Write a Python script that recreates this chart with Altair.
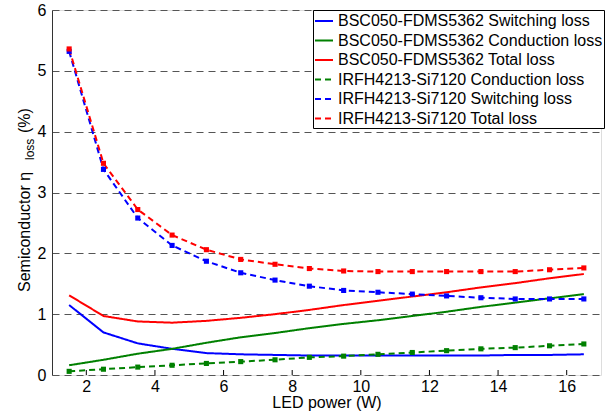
import altair as alt
import pandas as pd

led_power = [1.5, 2.5, 3.5, 4.5, 5.5, 6.5, 7.5, 8.5, 9.5, 10.5, 11.5, 12.5, 13.5, 14.5, 15.5, 16.5]

bsc_switching = [1.15, 0.70, 0.52, 0.43, 0.36, 0.34, 0.33, 0.32, 0.32, 0.32, 0.32, 0.32, 0.32, 0.33, 0.33, 0.34]
bsc_conduction = [0.16, 0.25, 0.35, 0.43, 0.53, 0.62, 0.69, 0.77, 0.84, 0.90, 0.97, 1.04, 1.12, 1.19, 1.26, 1.33]
bsc_total = [1.31, 0.97, 0.88, 0.86, 0.89, 0.94, 1.00, 1.07, 1.15, 1.22, 1.29, 1.36, 1.44, 1.51, 1.59, 1.66]
irfh_conduction = [0.06, 0.095, 0.13, 0.16, 0.19, 0.22, 0.25, 0.29, 0.31, 0.34, 0.37, 0.40, 0.43, 0.45, 0.48, 0.51]
irfh_switching = [5.32, 3.38, 2.58, 2.13, 1.87, 1.68, 1.56, 1.46, 1.39, 1.36, 1.33, 1.30, 1.27, 1.25, 1.25, 1.25]
irfh_total = [5.36, 3.48, 2.72, 2.30, 2.06, 1.90, 1.82, 1.75, 1.71, 1.70, 1.70, 1.70, 1.70, 1.70, 1.73, 1.76]

series_names = [
    "BSC050-FDMS5362 Switching loss",
    "BSC050-FDMS5362 Conduction loss",
    "BSC050-FDMS5362 Total loss",
    "IRFH4213-Si7120 Conduction loss",
    "IRFH4213-Si7120 Switching loss",
    "IRFH4213-Si7120 Total loss",
]
series_values = [bsc_switching, bsc_conduction, bsc_total, irfh_conduction, irfh_switching, irfh_total]
series_colors = ["#0000ff", "#008000", "#ff0000", "#008000", "#0000ff", "#ff0000"]
series_dashes = [[1, 0], [1, 0], [1, 0], [6, 4], [6, 4], [6, 4]]
marked_series = series_names[3:]

x_ticks = [2, 4, 6, 8, 10, 12, 14, 16]
y_ticks = [0, 1, 2, 3, 4, 5, 6]

rows = []
for name, vals in zip(series_names, series_values):
    for xv, yv in zip(led_power, vals):
        rows.append({"series": name, "x": xv, "y": yv})
df = pd.DataFrame(rows)

FONT = "Liberation Sans"
W, H = 549, 365

xscale = alt.Scale(domain=[1, 17], nice=False, zero=False)
yscale = alt.Scale(domain=[0, 6], nice=False)
cscale = alt.Scale(domain=series_names, range=series_colors)
dscale = alt.Scale(domain=series_names, range=series_dashes)

legend = alt.Legend(
    title=None, orient="none", legendX=261, legendY=0,
    strokeColor="black", fillColor="white", padding=1,
    labelFont=FONT, labelFontSize=16, labelColor="black", labelLimit=400,
    labelOffset=4, symbolType="stroke", symbolSize=324, symbolStrokeWidth=2,
    rowPadding=1.5,
)

x_axis = alt.Axis(
    values=x_ticks, ticks=False, domain=False, grid=False, format="d",
    labelFont=FONT, labelFontSize=16, labelColor="black", labelPadding=3,
    title="LED power (W)", titleFont=FONT, titleFontSize=16, titleFontWeight="normal",
    titleColor="black", titlePadding=0,
)
y_axis = alt.Axis(
    values=y_ticks, ticks=False, domain=True, domainColor="#333333", domainWidth=1,
    grid=True, gridDash=[7, 5], gridColor="#555555", gridWidth=1, gridOpacity=1,
    format="d",
    labelFont=FONT, labelFontSize=16, labelColor="black", labelPadding=6, title=None,
)

lines = alt.Chart(df).mark_line(strokeWidth=2, clip=True).encode(
    x=alt.X("x:Q", scale=xscale, axis=x_axis),
    y=alt.Y("y:Q", scale=yscale, axis=y_axis),
    color=alt.Color("series:N", scale=cscale, legend=legend, title=None),
    strokeDash=alt.StrokeDash("series:N", scale=dscale, legend=legend, title=None),
)

points = alt.Chart(df).transform_filter(
    alt.FieldOneOfPredicate(field="series", oneOf=marked_series)
).mark_square(size=26, opacity=1).encode(
    x=alt.X("x:Q", scale=xscale, axis=x_axis),
    y=alt.Y("y:Q", scale=yscale, axis=y_axis),
    fill=alt.Fill("series:N", scale=cscale, legend=None),
)

inner_ticks = alt.Chart(pd.DataFrame({"x": x_ticks})).mark_rule(
    color="black", strokeWidth=1
).encode(
    x=alt.X("x:Q", scale=xscale, axis=x_axis),
    y=alt.value(H),
    y2=alt.value(H - 5),
)

t1 = alt.Chart(pd.DataFrame({"t": ["Semiconductor   \u03b7"]})).mark_text(
    font=FONT, fontSize=16, angle=270, align="left", baseline="alphabetic", color="black"
).encode(x=alt.value(-22), y=alt.value(282), text="t:N")
t2 = alt.Chart(pd.DataFrame({"t": ["loss"]})).mark_text(
    font=FONT, fontSize=12, angle=270, align="left", baseline="alphabetic", color="black"
).encode(x=alt.value(-18), y=alt.value(150), text="t:N")
t3 = alt.Chart(pd.DataFrame({"t": ["(%)"]})).mark_text(
    font=FONT, fontSize=16, angle=270, align="left", baseline="alphabetic", color="black"
).encode(x=alt.value(-22), y=alt.value(123), text="t:N")

chart = alt.layer(inner_ticks, lines, points, t1, t2, t3).properties(
    width=W, height=H,
    autosize=alt.AutoSizeParams(type="none"),
    padding={"left": 52, "top": 10, "right": 15, "bottom": 39},
).configure_view(stroke=None).configure(background="white")

chart.save("out.html", embed_options={"renderer": "svg", "actions": False})
